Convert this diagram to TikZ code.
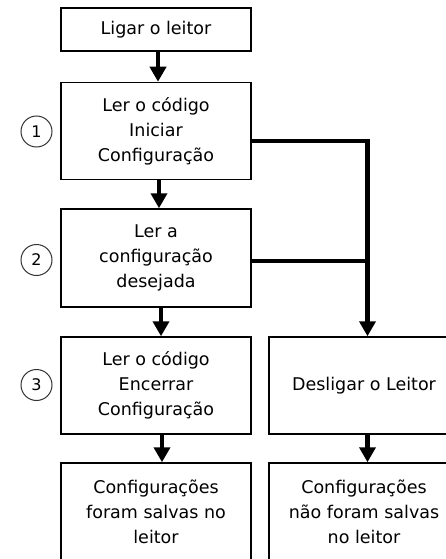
\documentclass[tikz,border=0pt]{standalone}
\usepackage{fontspec}
\setmainfont{DejaVu Sans}
\usetikzlibrary{arrows.meta}
\begin{document}
\begin{tikzpicture}[x=1pt,y=-1pt,
  box/.style={draw=black,line width=1.5pt,minimum width=190pt,inner sep=0pt,align=center,
    font=\fontsize{17.5}{25}\selectfont},
  arr/.style={line width=4.5pt,-{Triangle[length=15pt,width=16pt]}},
  conn/.style={line width=4.5pt},
  num/.style={circle,draw=black!80,line width=1pt,minimum size=31pt,inner sep=0pt,
    font=\fontsize{16}{16}\selectfont}]
\useasboundingbox (0,0) rectangle (445,559);
\node[box,minimum height=43pt] (b1) at (156,29.5) {Ligar o leitor};
\node[box,minimum height=97pt] (b2) at (156,131) {Ler o código\\Iniciar\\Configuração};
\node[box,minimum height=98pt] (b3) at (156,258) {Ler a\\configuração\\desejada};
\node[box,minimum height=97pt] (b4) at (156,385.5) {Ler o código\\Encerrar\\Configuração};
\node[box,minimum height=97pt] (b5) at (156,511.5) {Configurações\\foram salvas no\\leitor};
\node[box,minimum height=97pt] (r1) at (364,385.5) {Desligar o Leitor};
\node[box,minimum height=97pt] (r2) at (364,511.5) {Configurações\\não foram salvas\\no leitor};
\node[num] (c1) at (36.5,131.5) {1};
\node[num] (c2) at (36.5,260) {2};
\node[num] (c3) at (36.5,385) {3};
\coordinate (j1) at (367.5,141);
\coordinate (j2) at (367.5,261);
\draw[arr] ([xshift=2pt]b1.south) -- ([xshift=2pt]b2.north);
\draw[arr] ([xshift=3pt]b2.south) -- ([xshift=3pt]b3.north);
\draw[arr] ([xshift=5pt]b3.south) -- ([xshift=5pt]b4.north);
\draw[arr] ([xshift=6pt]b4.south) -- ([xshift=6pt]b5.north);
\draw[arr] ([xshift=3.5pt]r1.south) -- ([xshift=3.5pt]r2.north);
\draw[conn] (b2.east |- j1) -- (j1) -- (j2);
\draw[arr] (j2) -- (j2 |- r1.north);
\draw[conn] (b3.east |- j2) -- (j2);
\end{tikzpicture}
\end{document}
